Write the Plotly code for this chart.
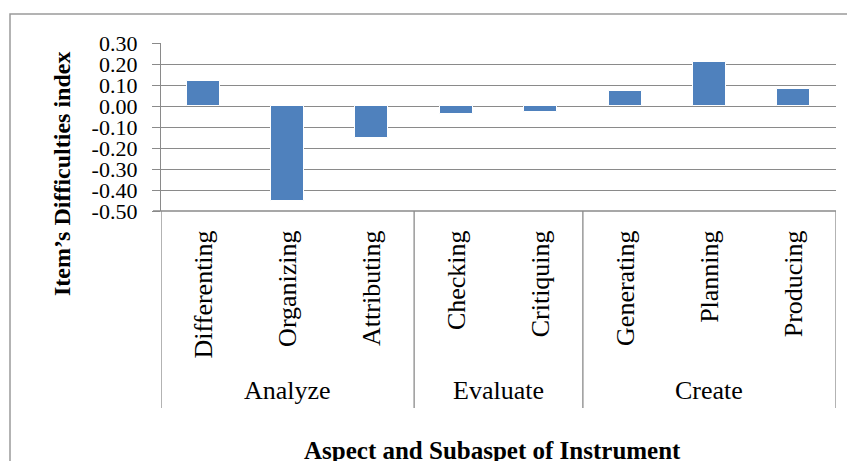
import plotly.graph_objects as go

subaspects = ["Differenting", "Organizing", "Attributing", "Checking", "Critiquing",
              "Generating", "Planning", "Producing"]
difficulty = [0.12, -0.45, -0.15, -0.04, -0.03, 0.07, 0.21, 0.08]
aspects = ["Analyze", "Evaluate", "Create"]
aspect_sizes = [3, 2, 3]
y_ticks = [0.30, 0.20, 0.10, 0.00, -0.10, -0.20, -0.30, -0.40, -0.50]

# page is offset by the browser's default 8px body margin
OFF = 8
W, H = 855 - OFF, 461 - OFF
PL, PR, PT, PB = 161, 836, 43, 211   # plot area in page pixels
L, R, T, B = PL - OFF, W - (PR - OFF), PT - OFF, H - (PB - OFF)
pw, ph = PR - PL, PB - PT

def px_x(px):
    return (px - PL) / pw

def px_y(py):
    return (PB - py) / ph

FONT = "Liberation Serif, Times New Roman, serif"
GRID = "#8a8a8a"

fig = go.Figure(go.Bar(
    x=subaspects, y=difficulty, width=0.39,
    marker=dict(color="#4F81BD", line=dict(color="#ffffff", width=1)),
))

shapes = []
# outer chart border
shapes.append(dict(type="rect", xref="paper", yref="paper",
                   x0=px_x(10), x1=px_x(900), y0=px_y(520), y1=px_y(14),
                   line=dict(color="#9a9a9a", width=1.5), layer="below"))
# group separators below axis
bounds = [-0.5]
for s in aspect_sizes:
    bounds.append(bounds[-1] + s)
for b in bounds:
    shapes.append(dict(type="line", xref="x", yref="paper", x0=b, x1=b,
                       y0=0, y1=px_y(408), line=dict(color=GRID, width=1.3)))
# bottom line extension left of axis
shapes.append(dict(type="line", xref="paper", yref="paper", x0=px_x(153), x1=1,
                   y0=0, y1=0, line=dict(color=GRID, width=1.3)))

annotations = []
for i, a in enumerate(aspects):
    annotations.append(dict(text=a, xref="x", yref="paper",
                            x=(bounds[i] + bounds[i + 1]) / 2, y=px_y(391),
                            showarrow=False, xanchor="center", yanchor="middle",
                            font=dict(family=FONT, size=26, color="#000")))
annotations.append(dict(text="<b>Aspect and Subaspet of Instrument</b>", xref="paper", yref="paper",
                        x=px_x(492), y=px_y(450), showarrow=False,
                        xanchor="center", yanchor="middle",
                        font=dict(family=FONT, size=25, color="#000")))
annotations.append(dict(text="<b>Item’s Difficulties index</b>", xref="paper", yref="paper",
                        x=px_x(62), y=px_y(174), showarrow=False, textangle=-90,
                        xanchor="center", yanchor="middle",
                        font=dict(family=FONT, size=24, color="#000")))

fig.update_layout(
    width=W, height=H,
    margin=dict(l=L, r=R, t=T, b=B, pad=0, autoexpand=False),
    paper_bgcolor="white", plot_bgcolor="white",
    showlegend=False,
    bargap=0,
    shapes=shapes,
    annotations=annotations,
    xaxis=dict(type="category", range=[-0.5, 7.5], tickangle=-90, automargin=False,
               ticks="outside", ticklen=8, tickcolor="rgba(0,0,0,0)",
               tickfont=dict(family=FONT, size=26, color="#000"),
               showgrid=False, showline=False, zeroline=False),
    yaxis=dict(range=[-0.5, 0.3], tickvals=y_ticks, automargin=False,
               ticktext=[f"{v:.2f}" for v in y_ticks],
               ticks="outside", ticklen=8, tickcolor=GRID, tickwidth=1.3,
               ticklabelstandoff=10,
               tickfont=dict(family=FONT, size=22, color="#000"),
               showgrid=True, gridcolor=GRID, gridwidth=1.3,
               zeroline=True, zerolinecolor=GRID, zerolinewidth=1.3,
               showline=True, linecolor=GRID, linewidth=1.3),
)

fig.write_html("out.html")
